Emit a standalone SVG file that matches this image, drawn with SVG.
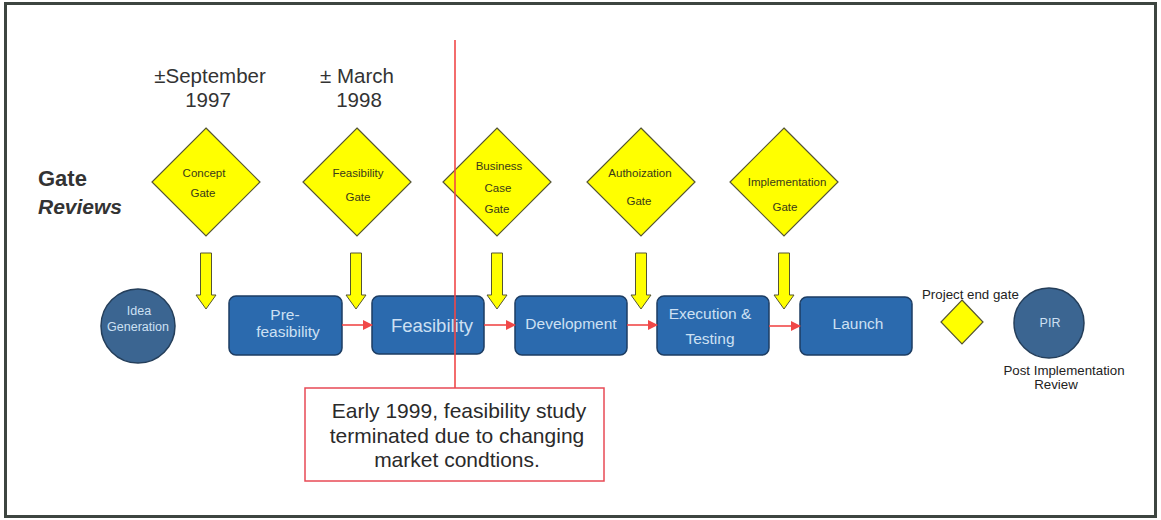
<svg xmlns="http://www.w3.org/2000/svg" width="1161" height="520" viewBox="0 0 1161 520">
  <style>
    text { font-family: "Liberation Sans", Arial, sans-serif; }
    .gate { fill: #ffff00; stroke: #555533; stroke-width: 1.2; }
    .gate-label { font-size: 11.5px; fill: #3a3a1a; text-anchor: middle; }
    .date { font-size: 20.5px; fill: #333; text-anchor: middle; }
    .drop { fill: #ffff00; stroke: #555533; stroke-width: 1; }
    .phase { fill: #2b6aae; stroke: #1d3d63; stroke-width: 1.5; }
    .phase-label { fill: #cde0f3; font-size: 15.5px; text-anchor: middle; }
    .round { fill: #3b6591; stroke: #243e5a; stroke-width: 1.5; }
    .round-label { fill: #cde0f3; font-size: 12.5px; text-anchor: middle; }
    .small { font-size: 13.3px; fill: #222; }
    .flow { stroke: #f04848; stroke-width: 1.6; fill: none; marker-end: url(#redhead); }
    .note { font-size: 21px; fill: #2a2a2a; text-anchor: middle; }
  </style>
  <defs>
    <marker id="redhead" markerWidth="10" markerHeight="10" refX="9" refY="5" orient="auto" markerUnits="userSpaceOnUse">
      <path d="M0,0 L10,5 L0,10 Z" fill="#f04848"/>
    </marker>
    <path id="drop-arrow" d="M-5.5,0 H5.5 V42 H10 L0,56 L-10,42 H-5.5 Z"/>
  </defs>

  <rect x="0" y="0" width="1161" height="520" fill="#fff"/>
  <rect x="5.5" y="3.5" width="1150" height="513" fill="none" stroke="#3d4540" stroke-width="3"/>

  <!-- side heading -->
  <text x="38" y="186" font-size="22" font-weight="bold" fill="#333">Gate</text>
  <text x="38" y="214" font-size="21" font-weight="bold" font-style="italic" fill="#333">Reviews</text>

  <!-- dates -->
  <text class="date" x="210" y="83">±September</text>
  <text class="date" x="208" y="107">1997</text>
  <text class="date" x="357" y="83">± March</text>
  <text class="date" x="359" y="107">1998</text>

  <!-- gate review diamonds -->
  <g id="gate-concept">
    <polygon class="gate" points="206,128 260,182 206,236 152,182"/>
    <text class="gate-label" x="204" y="177">Concept</text>
    <text class="gate-label" x="203" y="197">Gate</text>
  </g>
  <g id="gate-feasibility">
    <polygon class="gate" points="357,128 411,182 357,236 303,182"/>
    <text class="gate-label" x="358" y="177">Feasibility</text>
    <text class="gate-label" x="358" y="201">Gate</text>
  </g>
  <g id="gate-business">
    <polygon class="gate" points="497,128 551,182 497,236 443,182"/>
    <text class="gate-label" x="499" y="170">Business</text>
    <text class="gate-label" x="498" y="192">Case</text>
    <text class="gate-label" x="497" y="213">Gate</text>
  </g>
  <g id="gate-authorization">
    <polygon class="gate" points="641,128 695,182 641,236 587,182"/>
    <text class="gate-label" x="640" y="177">Authoization</text>
    <text class="gate-label" x="639" y="205">Gate</text>
  </g>
  <g id="gate-implementation">
    <polygon class="gate" points="784,128 838,182 784,236 730,182"/>
    <text class="gate-label" x="787" y="186">Implementation</text>
    <text class="gate-label" x="785" y="211">Gate</text>
  </g>

  <!-- downward gate markers -->
  <g id="gate-drops" class="drop">
    <use href="#drop-arrow" x="206" y="253"/>
    <use href="#drop-arrow" x="356" y="253"/>
    <use href="#drop-arrow" x="497" y="253"/>
    <use href="#drop-arrow" x="641" y="253"/>
    <use href="#drop-arrow" x="784" y="253"/>
  </g>

  <g id="idea-generation">
    <circle class="round" cx="138" cy="326" r="37"/>
    <text class="round-label" x="139" y="315">Idea</text>
    <text class="round-label" x="138" y="331">Generation</text>
  </g>
  <g id="phase-prefeasibility">
    <rect class="phase" x="229" y="296" width="113" height="59" rx="7"/>
    <text class="phase-label" x="285" y="320">Pre-</text>
    <text class="phase-label" x="288" y="337">feasibility</text>
  </g>
  <g id="phase-feasibility">
    <rect class="phase" x="372" y="296" width="112" height="58" rx="7"/>
    <text class="phase-label" x="432" y="332" style="font-size:18.5px">Feasibility</text>
  </g>
  <g id="phase-development">
    <rect class="phase" x="515" y="296" width="112" height="59" rx="7"/>
    <text class="phase-label" x="571" y="329">Development</text>
  </g>
  <g id="phase-execution">
    <rect class="phase" x="657" y="296" width="112" height="59" rx="7"/>
    <text class="phase-label" x="710" y="319">Execution &amp;</text>
    <text class="phase-label" x="710" y="344">Testing</text>
  </g>
  <g id="phase-launch">
    <rect class="phase" x="800" y="297" width="112" height="58" rx="7"/>
    <text class="phase-label" x="858" y="329">Launch</text>
  </g>

  <g id="project-end-gate">
    <text class="small" x="922" y="299">Project end gate</text>
    <polygon class="gate" points="962,300 983,322 962,344 941,322"/>
  </g>
  <g id="pir">
    <circle class="round" cx="1049" cy="323" r="35"/>
    <text class="round-label" x="1050" y="327">PIR</text>
    <text class="small" x="1064" y="375" text-anchor="middle">Post Implementation</text>
    <text class="small" x="1056" y="389" text-anchor="middle">Review</text>
  </g>

  <!-- phase connectors and the termination marker line (drawn over the nodes) -->
  <g id="connectors">
    <line class="flow" x1="342" y1="325" x2="372" y2="325"/>
    <line class="flow" x1="484" y1="325" x2="515" y2="325"/>
    <line class="flow" x1="627" y1="325" x2="657" y2="325"/>
    <line class="flow" x1="769" y1="326" x2="800" y2="326"/>
    <line x1="455" y1="40" x2="455" y2="388" stroke="#f04848" stroke-width="1.6"/>
  </g>

  <g id="termination-note">
    <rect x="305" y="388" width="299" height="93" fill="#fff" stroke="#e84a55" stroke-width="1.5"/>
    <text class="note" x="459" y="418">Early 1999, feasibility study</text>
    <text class="note" x="457" y="443">terminated due to changing</text>
    <text class="note" x="457" y="467">market condtions.</text>
  </g>
</svg>
